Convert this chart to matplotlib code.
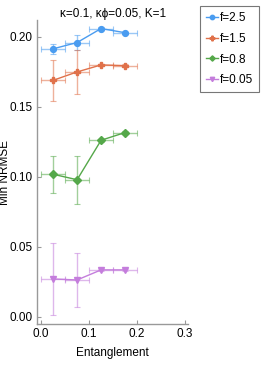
import matplotlib
matplotlib.use("Agg")
import matplotlib.pyplot as plt
import numpy as np

plt.rcParams["font.family"] = ["Liberation Sans", "DejaVu Sans"]

entanglement = [0.025, 0.075, 0.125, 0.175]
x_err = [0.025, 0.025, 0.025, 0.025]

labels = ["f=2.5", "f=1.5", "f=0.8", "f=0.05"]
f25 = [0.1915, 0.1960, 0.2060, 0.2030]
f25_err = [0.0035, 0.0054, 0.0012, 0.0008]
f15 = [0.1690, 0.1750, 0.1800, 0.1795]
f15_err = [0.0145, 0.0157, 0.0010, 0.0010]
f08 = [0.1019, 0.0980, 0.1262, 0.1317]
f08_err = [0.0131, 0.0173, 0.0010, 0.0010]
f005 = [0.0271, 0.0264, 0.0336, 0.0336]
f005_err = [0.0260, 0.0193, 0.0006, 0.0006]

series = [f25, f15, f08, f005]
errors = [f25_err, f15_err, f08_err, f005_err]
colors = ["#4a9cf0", "#e0714a", "#55a84a", "#c47ddc"]
markers = ["o", "P", "D", "v"]
msizes = [4.2, 4.5, 3.6, 4.2]

fig = plt.figure(figsize=(2.63, 3.66), dpi=100)
ax = fig.add_axes([0.141, 0.115, 0.574, 0.83])

handles = []
for y, ye, c, m, ms, lab in zip(series, errors, colors, markers, msizes, labels):
    ax.errorbar(entanglement, y, xerr=x_err, yerr=ye, fmt="none",
                ecolor=c, alpha=0.55, elinewidth=1.0, capsize=2.5, capthick=0.8)
    h, = ax.plot(entanglement, y, color=c, marker=m, ms=ms, lw=1.0, label=lab)
    handles.append(h)

ax.set_xlim(-0.0083, 0.306)
ax.set_ylim(-0.005, 0.212)
ax.set_xticks([0.0, 0.1, 0.2, 0.3])
ax.set_xticklabels(["0.0", "0.1", "0.2", "0.3"])
ax.set_yticks([0.0, 0.05, 0.10, 0.15, 0.20])
ax.set_yticklabels(["0.00", "0.05", "0.10", "0.15", "0.20"])
for s in ["top", "right"]:
    ax.spines[s].set_visible(False)
for s in ["left", "bottom"]:
    ax.spines[s].set_color("#999999")
    ax.spines[s].set_linewidth(1.0)
ax.tick_params(direction="in", length=3, color="#999999", labelsize=8.5, pad=3)
ax.set_xlabel("Entanglement", fontsize=8.5)
ax.xaxis.set_label_coords(0.5, -0.075)
ax.set_ylabel("Min NRMSE", fontsize=8.5)
ax.yaxis.set_label_coords(-0.175, 0.5)
ax.set_title("κ=0.1, κϕ=0.05, K=1", fontsize=8.5, pad=1)

leg = fig.legend(handles=handles, labels=labels, loc="upper left",
                 bbox_to_anchor=(200 / 263, 1 - 6 / 366), fontsize=8.5,
                 frameon=True, fancybox=False, handlelength=1.0,
                 handletextpad=0.15, borderpad=0.5, labelspacing=0.75,
                 borderaxespad=0, markerscale=0.75)
leg.get_frame().set_edgecolor("#555555")
leg.get_frame().set_linewidth(0.8)

fig.savefig("out.png", dpi=100)
